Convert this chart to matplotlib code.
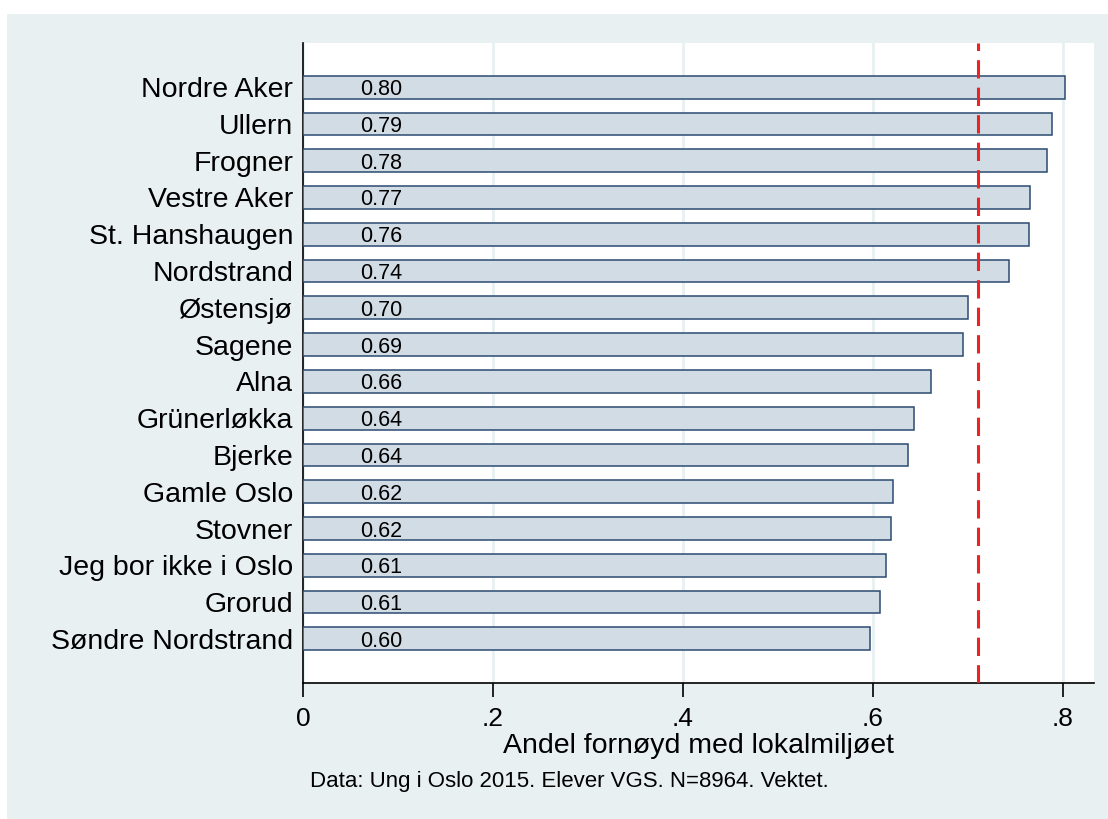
import matplotlib.pyplot as plt
from matplotlib.patches import Rectangle

bydeler = ['Nordre Aker', 'Ullern', 'Frogner', 'Vestre Aker', 'St. Hanshaugen',
           'Nordstrand', 'Østensjø', 'Sagene', 'Alna', 'Grünerløkka', 'Bjerke',
           'Gamle Oslo', 'Stovner', 'Jeg bor ikke i Oslo', 'Grorud',
           'Søndre Nordstrand']
andel = [0.802, 0.788, 0.783, 0.765, 0.764, 0.743, 0.700, 0.695, 0.661,
         0.643, 0.637, 0.621, 0.619, 0.614, 0.607, 0.597]
snitt = 0.711
xticks = [0, 0.2, 0.4, 0.6, 0.8]
xticklabels = ['0', '.2', '.4', '.6', '.8']

plt.rcParams['font.family'] = ['Liberation Sans', 'DejaVu Sans']

bg = '#e8f0f2'
fig = plt.figure(figsize=(11.08, 8.19), dpi=100, facecolor='white')
fig.patches.append(Rectangle((7 / 1108, 0), 1, 1 - 14 / 819, transform=fig.transFigure,
                             facecolor=bg, edgecolor='none', zorder=-10))

ax = fig.add_axes([303 / 1108, 1 - 683 / 819, (1094 - 303) / 1108, (683 - 43) / 819])
ax.set_facecolor('white')

pos = list(range(len(bydeler)))
ax.barh(pos, andel, height=0.62, color='#d2dce4', edgecolor='#2b4a72', linewidth=1.1, zorder=3)
for p, v in zip(pos, andel):
    ax.text(0.06, p, f'{v:.2f}', ha='left', va='center_baseline', fontsize=15.5, zorder=4)

ax.axvline(snitt, color='#ee2222', lw=2.2, dashes=(6, 3), zorder=5)

ax.set_ylim(len(bydeler) - 1 + 1.2, -1.2)
ax.set_xlim(0, 0.8326)
ax.set_yticks(pos)
ax.set_yticklabels(bydeler, fontsize=20.5)
ax.tick_params(axis='y', length=0, pad=7)
ax.set_xticks(xticks)
ax.set_xticklabels(xticklabels, fontsize=19)
ax.tick_params(axis='x', length=10, width=1.2, pad=7, direction='out')
ax.grid(axis='x', color='#e8f0f2', lw=2, zorder=0)
ax.set_axisbelow(True)
for s in ['top', 'right']:
    ax.spines[s].set_visible(False)
for s in ['left', 'bottom']:
    ax.spines[s].set_linewidth(1.2)

ax.set_xlabel('Andel fornøyd med lokalmiljøet', fontsize=20.5, labelpad=2)
fig.text(310 / 1108, 1 - 781 / 819, 'Data: Ung i Oslo 2015. Elever VGS. N=8964. Vektet.',
         ha='left', va='center', fontsize=16)

fig.savefig('out.png', dpi=100, facecolor=fig.get_facecolor())
